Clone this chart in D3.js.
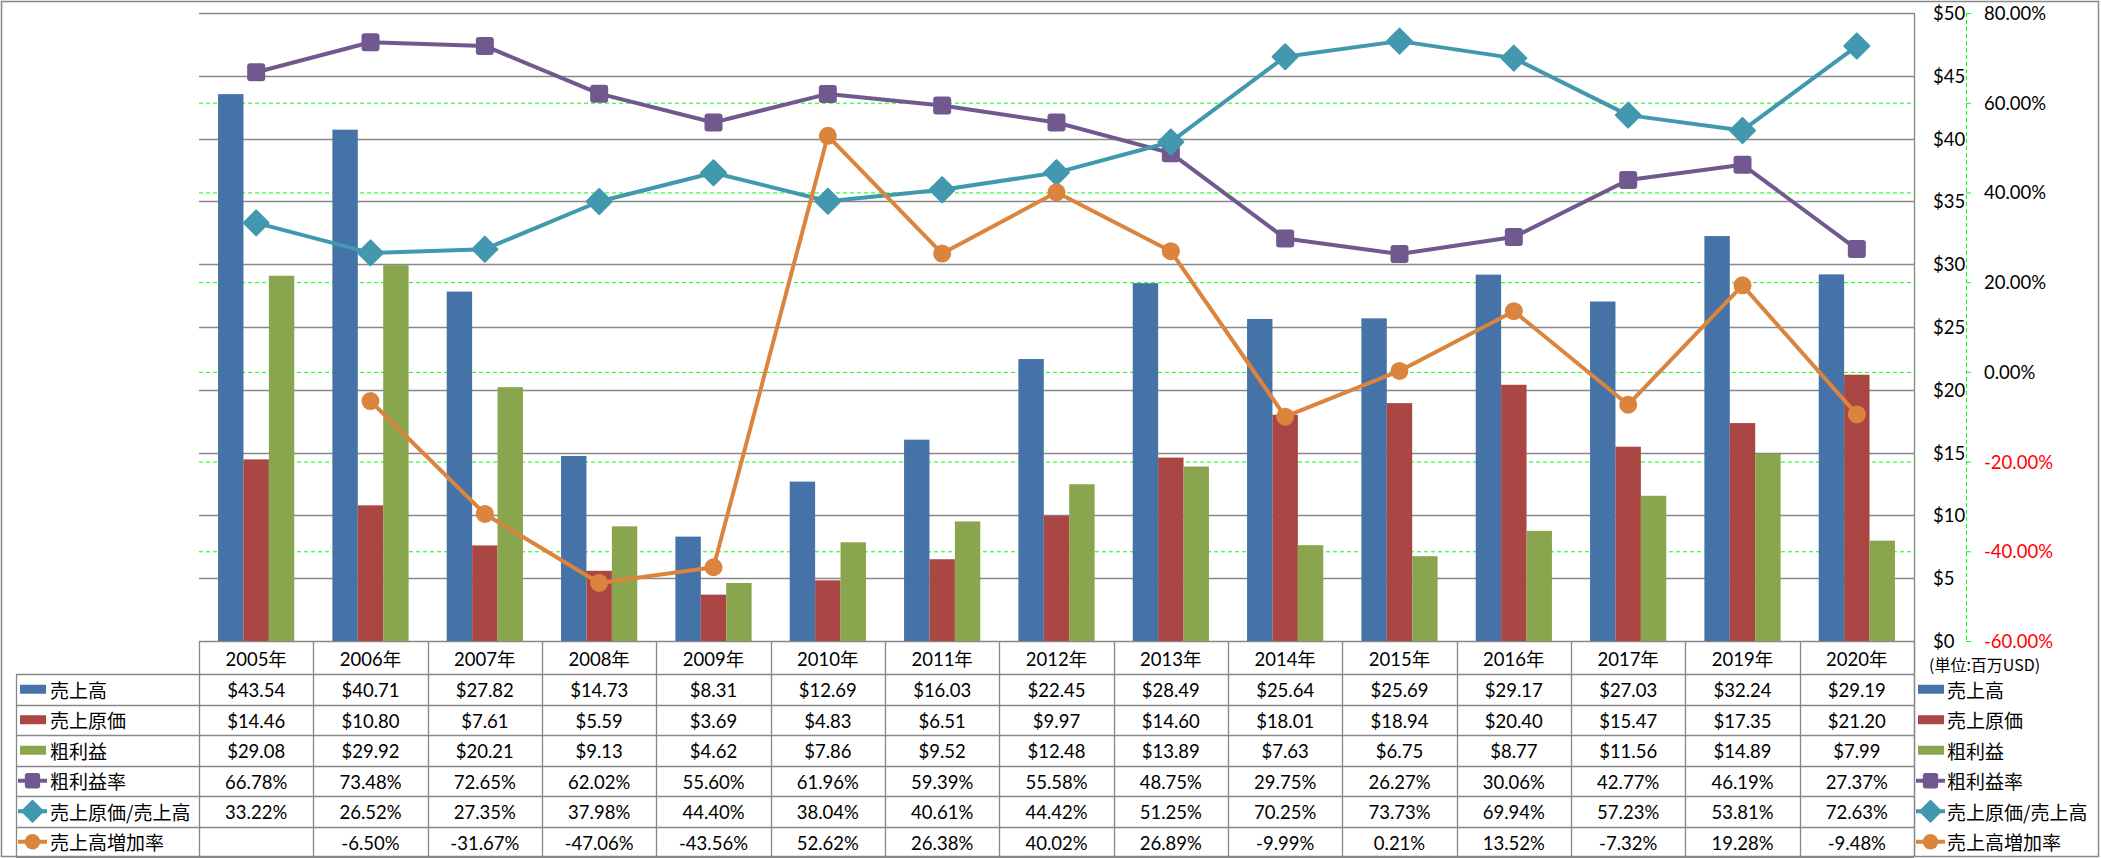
<!DOCTYPE html>
<html><head><meta charset="utf-8">
<script src="https://cdn.jsdelivr.net/npm/d3@7/dist/d3.min.js"></script>
<style>
html,body{margin:0;padding:0;background:#fff;}
svg{display:block;}
</style></head>
<body>
<svg id="chart" width="2101" height="858"></svg>
<script>
const years = ["2005年","2006年","2007年","2008年","2009年","2010年","2011年","2012年","2013年","2014年","2015年","2016年","2017年","2019年","2020年"];
const sales = [43.54,40.71,27.82,14.73,8.31,12.69,16.03,22.45,28.49,25.64,25.69,29.17,27.03,32.24,29.19];
const cogs = [14.46,10.80,7.61,5.59,3.69,4.83,6.51,9.97,14.60,18.01,18.94,20.40,15.47,17.35,21.20];
const grossProfit = [29.08,29.92,20.21,9.13,4.62,7.86,9.52,12.48,13.89,7.63,6.75,8.77,11.56,14.89,7.99];
const grossMargin = [66.78,73.48,72.65,62.02,55.60,61.96,59.39,55.58,48.75,29.75,26.27,30.06,42.77,46.19,27.37];
const cogsRatio = [33.22,26.52,27.35,37.98,44.40,38.04,40.61,44.42,51.25,70.25,73.73,69.94,57.23,53.81,72.63];
const salesGrowth = [null,-6.50,-31.67,-47.06,-43.56,52.62,26.38,40.02,26.89,-9.99,0.21,13.52,-7.32,19.28,-9.48];
const dollarTicks = [0,5,10,15,20,25,30,35,40,45,50];
const pctTicks = [-60,-40,-20,0,20,40,60,80];
const unitLabel = "(単位:百万USD)";

const barSeries = [
  {name:"売上高", values:sales, color:"#4572A7"},
  {name:"売上原価", values:cogs, color:"#AA4643"},
  {name:"粗利益", values:grossProfit, color:"#89A54E"}
];
const lineSeries = [
  {name:"粗利益率", values:grossMargin, color:"#71588F", marker:"square"},
  {name:"売上原価/売上高", values:cogsRatio, color:"#4198AF", marker:"diamond"},
  {name:"売上高増加率", values:salesGrowth, color:"#DB843D", marker:"circle"}
];

const locale = d3.formatLocale({decimal:".", thousands:",", grouping:[3], currency:["$",""], minus:"-"});
const f2 = locale.format(".2f");

const svg = d3.select("#chart");
const gray = "#888888";
const green = "#00FF00";
const NUMFONT = "Lato, 'Noto Sans CJK JP', sans-serif";
const CJKFONT = "'Noto Sans CJK JP', sans-serif";

const pL = 199, pR = 1914, pT = 13, pB = 641;
const x0 = d3.scaleBand().domain(years).range([pL, pR]).padding(0);
const x1 = d3.scaleBand().domain(barSeries.map(s=>s.name)).range([0, x0.bandwidth()]).paddingInner(0).paddingOuter(0.75);
const yL = d3.scaleLinear().domain([0,50]).range([pB, pT]);
const yR = d3.scaleLinear().domain([-60,80]).range([pB, pT]);

// green dashed gridlines (secondary axis)
svg.append("g").selectAll("line").data(pctTicks).join("line")
  .attr("x1", pL).attr("x2", pR)
  .attr("y1", d=>yR(d)+0.5).attr("y2", d=>yR(d)+0.5)
  .attr("stroke", green).attr("stroke-width",1).attr("stroke-dasharray","4,3");

// gray gridlines
svg.append("g").selectAll("line").data(dollarTicks).join("line")
  .attr("x1", pL).attr("x2", pR)
  .attr("y1", d=>Math.round(yL(d))+0.5).attr("y2", d=>Math.round(yL(d))+0.5)
  .attr("stroke", gray).attr("stroke-width",1.3);

// bars
barSeries.forEach(s=>{
  svg.append("g").selectAll("rect").data(s.values).join("rect")
    .attr("x", (d,i)=>x0(years[i]) + x1(s.name))
    .attr("width", x1.bandwidth())
    .attr("y", d=>yL(d))
    .attr("height", d=>yL(0)-yL(d))
    .attr("fill", s.color);
});

// markers
function drawMarker(g, type, cx, cy, color, scale){
  scale = scale||1;
  if(type==="square"){
    const s=18*scale;
    g.append("rect").attr("x",cx-s/2).attr("y",cy-s/2).attr("width",s).attr("height",s)
      .attr("rx",3*scale).attr("fill",color);
  } else if(type==="diamond"){
    const r=12.5*scale;
    g.append("path").attr("d",`M${cx},${cy-r}L${cx+r},${cy}L${cx},${cy+r}L${cx-r},${cy}Z`)
      .attr("fill",color).attr("stroke",color).attr("stroke-width",2*scale).attr("stroke-linejoin","round");
  } else {
    g.append("circle").attr("cx",cx).attr("cy",cy).attr("r",9*scale).attr("fill",color);
  }
}

const xc = i => x0(years[i]) + x0.bandwidth()/2;
lineSeries.forEach(s=>{
  const line = d3.line().defined(d=>d!==null).x((d,i)=>xc(i)).y(d=>yR(d));
  const g = svg.append("g");
  g.append("path").datum(s.values).attr("d", line)
    .attr("fill","none").attr("stroke",s.color).attr("stroke-width",4).attr("stroke-linejoin","round");
  s.values.forEach((v,i)=>{ if(v!==null) drawMarker(g, s.marker, xc(i), yR(v), s.color); });
});

// plot right border
svg.append("line").attr("x1",pR+0.5).attr("x2",pR+0.5).attr("y1",pT).attr("y2",857)
  .attr("stroke",gray).attr("stroke-width",1.3);

// dollar axis labels (left aligned)
svg.append("g").selectAll("text").data(dollarTicks).join("text")
  .attr("x",1933).attr("y",d=>yL(d)).attr("dominant-baseline","central")
  .attr("font-family",NUMFONT).attr("font-size",18.5).attr("fill","#000")
  .text(d=>"$"+d);

// percent axis: green dashed line with ticks
svg.append("line").attr("x1",1966.5).attr("x2",1966.5).attr("y1",pT).attr("y2",pB)
  .attr("stroke",green).attr("stroke-width",1).attr("stroke-dasharray","4,3");
svg.append("g").selectAll("line").data(pctTicks).join("line")
  .attr("x1",1966).attr("x2",1971).attr("y1",d=>yR(d)+0.5).attr("y2",d=>yR(d)+0.5)
  .attr("stroke",green).attr("stroke-width",1);
svg.append("g").selectAll("text").data(pctTicks).join("text")
  .attr("x",1984).attr("y",d=>yR(d)).attr("dominant-baseline","central")
  .attr("font-family",NUMFONT).attr("font-size",18.5)
  .attr("fill",d=>d<0?"#FF0000":"#000")
  .text(d=>f2(d)+"%");

svg.append("text").attr("x",1929).attr("y",664).attr("dominant-baseline","central")
  .attr("font-family",CJKFONT).attr("font-size",16).attr("fill","#000").text(unitLabel);

// data table
const headTop = 641, rowTop = 674, rowH = 30.5, tableLeft = 16;
const rows = [
  {s:barSeries[0], fmt:v=>"$"+f2(v)},
  {s:barSeries[1], fmt:v=>"$"+f2(v)},
  {s:barSeries[2], fmt:v=>"$"+f2(v)},
  {s:lineSeries[0], fmt:v=>f2(v)+"%"},
  {s:lineSeries[1], fmt:v=>f2(v)+"%"},
  {s:lineSeries[2], fmt:v=>v===null?"":f2(v)+"%"}
];
const tg = svg.append("g");
const hLines = d3.range(rows.length+1).map(k=>rowTop+k*rowH);
tg.selectAll("line.h").data(hLines).join("line").attr("class","h")
  .attr("x1",tableLeft).attr("x2",pR).attr("y1",d=>Math.round(d)+0.5).attr("y2",d=>Math.round(d)+0.5)
  .attr("stroke",gray).attr("stroke-width",1.3);
const vX = years.map(y=>x0(y)).concat([pR]);
tg.selectAll("line.v").data(vX).join("line").attr("class","v")
  .attr("x1",d=>Math.round(d)+0.5).attr("x2",d=>Math.round(d)+0.5).attr("y1",headTop).attr("y2",rowTop+rows.length*rowH)
  .attr("stroke",gray).attr("stroke-width",1.3);
tg.append("line").attr("x1",tableLeft+0.5).attr("x2",tableLeft+0.5).attr("y1",rowTop).attr("y2",rowTop+rows.length*rowH)
  .attr("stroke",gray).attr("stroke-width",1.3);
tg.selectAll("text.hd").data(years).join("text").attr("class","hd")
  .attr("x",d=>x0(d)+x0.bandwidth()/2).attr("y",(headTop+rowTop)/2+1)
  .attr("text-anchor","middle").attr("dominant-baseline","central")
  .attr("font-family",NUMFONT).attr("font-size",18.5).attr("fill","#000").text(d=>d);

function legendKey(g, s, x, cy){
  if(s.marker){
    g.append("line").attr("x1",x).attr("x2",x+29).attr("y1",cy).attr("y2",cy)
      .attr("stroke",s.color).attr("stroke-width",4);
    drawMarker(g, s.marker, x+14.5, cy, s.color, 0.85);
  } else {
    g.append("rect").attr("x",x+2).attr("y",cy-4.5).attr("width",26).attr("height",9).attr("fill",s.color);
  }
}

rows.forEach((r,k)=>{
  const cy = rowTop + k*rowH + rowH/2;
  legendKey(tg, r.s, 18, cy);
  tg.append("text").attr("x",50).attr("y",cy).attr("dominant-baseline","central")
    .attr("font-family",CJKFONT).attr("font-size",19).attr("fill","#000").text(r.s.name);
  tg.append("g").selectAll("text").data(r.s.values).join("text")
    .attr("x",(d,i)=>xc(i)).attr("y",cy+1).attr("text-anchor","middle").attr("dominant-baseline","central")
    .attr("font-family",NUMFONT).attr("font-size",18.5).attr("fill","#000").text(d=>r.fmt(d));
  legendKey(tg, r.s, 1916, cy);
  tg.append("text").attr("x",1947).attr("y",cy).attr("dominant-baseline","central")
    .attr("font-family",CJKFONT).attr("font-size",19).attr("fill","#000").text(r.s.name);
});

svg.append("rect").attr("x",1.5).attr("y",1.5).attr("width",2097).attr("height",855)
  .attr("fill","none").attr("stroke",gray).attr("stroke-width",1.5);
</script>
</body></html>
